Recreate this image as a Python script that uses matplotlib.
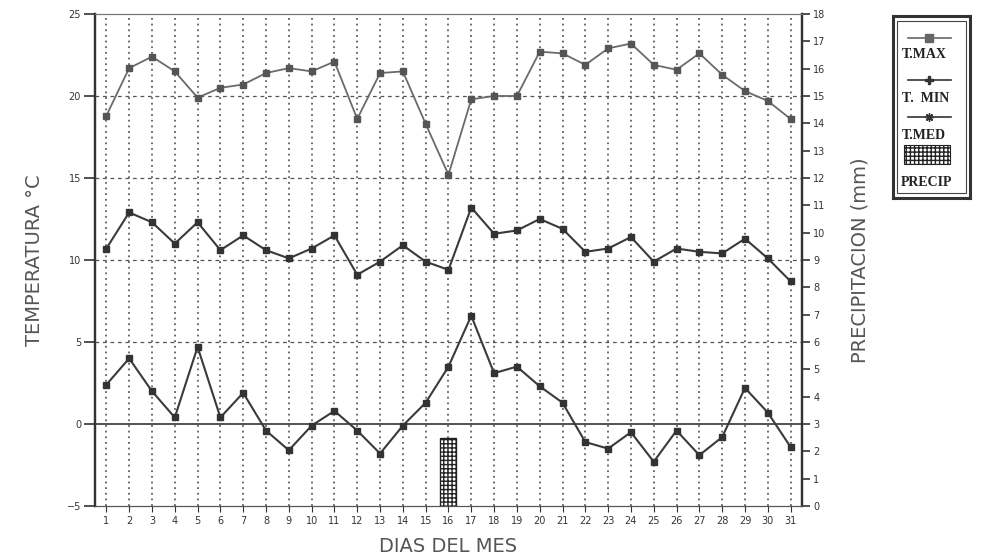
import matplotlib
matplotlib.use("Agg")
import matplotlib.pyplot as plt
from matplotlib.patches import Rectangle

# Daily data for the month
dias = list(range(1, 32))
t_max = [18.8, 21.7, 22.4, 21.5, 19.9, 20.5, 20.7, 21.4, 21.7, 21.5, 22.1,
         18.6, 21.4, 21.5, 18.3, 15.2, 19.8, 20.0, 20.0, 22.7, 22.6, 21.9,
         22.9, 23.2, 21.9, 21.6, 22.6, 21.3, 20.3, 19.7, 18.6]
t_med = [10.7, 12.9, 12.3, 11.0, 12.3, 10.6, 11.5, 10.6, 10.1, 10.7, 11.5,
         9.1, 9.9, 10.9, 9.9, 9.4, 13.2, 11.6, 11.8, 12.5, 11.9, 10.5,
         10.7, 11.4, 9.9, 10.7, 10.5, 10.4, 11.3, 10.1, 8.7]
t_min = [2.4, 4.0, 2.0, 0.4, 4.7, 0.4, 1.9, -0.4, -1.6, -0.1, 0.8,
         -0.4, -1.8, -0.1, 1.3, 3.5, 6.6, 3.1, 3.5, 2.3, 1.3, -1.1,
         -1.5, -0.5, -2.3, -0.4, -1.9, -0.8, 2.2, 0.7, -1.4]
precip_dias = [16]
precip_mm = [2.5]

fig = plt.figure(figsize=(9.85, 5.6), dpi=100)
ax = fig.add_axes([0.0964, 0.0964, 0.7178, 0.8786])
ax2 = ax.twinx()

# precipitation bar on the right axis
ax2.bar(precip_dias, precip_mm, width=0.7, color="white", edgecolor="#222",
        hatch="++++", linewidth=1.0, zorder=2)
ax2.set_ylim(0, 18)
ax2.set_yticks(range(0, 19))
ax2.tick_params(axis="y", labelsize=7, colors="#333", length=6, width=1.2, pad=2)

ax.set_zorder(ax2.get_zorder() + 1)
ax.patch.set_visible(False)

# grid
for d in dias:
    ax.axvline(d, color="#444", linestyle=(0, (1.2, 2.5)), linewidth=1.1, zorder=1)
for v in [5, 10, 15, 20]:
    ax.axhline(v, color="#555", linestyle=(0, (3, 3)), linewidth=0.9, zorder=1)
ax.axhline(0, color="#444", linewidth=1.3, zorder=1)

ax.plot(dias, t_max, color="#6a6a6a", linewidth=1.3, marker="s", markersize=5,
        markerfacecolor="#555", markeredgecolor="#555", zorder=3)
ax.plot(dias, t_med, color="#3a3a3a", linewidth=1.5, marker="s", markersize=5,
        markerfacecolor="#333", markeredgecolor="#333", zorder=3)
ax.plot(dias, t_min, color="#3a3a3a", linewidth=1.5, marker="s", markersize=5,
        markerfacecolor="#333", markeredgecolor="#333", zorder=3)

ax.set_xlim(0.5, 31.5)
ax.set_ylim(-5, 25)
ax.set_xticks(dias)
ax.set_yticks(range(-5, 26, 5))
ax.tick_params(axis="x", labelsize=7, colors="#333", length=4, pad=3)
ax.tick_params(axis="y", labelsize=7, colors="#333", length=8, width=1.2, pad=2)

for a in (ax, ax2):
    a.spines["left"].set_linewidth(1.6)
    a.spines["right"].set_linewidth(1.6)
    a.spines["left"].set_color("#333")
    a.spines["right"].set_color("#333")
    a.spines["top"].set_color("#777")
    a.spines["bottom"].set_color("#555")

ax.set_xlabel("DIAS DEL MES", fontsize=14, color="#555", labelpad=8)
ax.set_ylabel("TEMPERATURA °C", fontsize=14, color="#555", labelpad=16)
ax2.set_ylabel("PRECIPITACION (mm)", fontsize=14, color="#555", labelpad=18)

# legend box drawn by hand: glyph above each label
lg = fig.add_axes([0.9066, 0.6464, 0.078, 0.325])
lg.set_xlim(0, 1)
lg.set_ylim(0, 1)
lg.set_xticks([])
lg.set_yticks([])
for s in lg.spines.values():
    s.set_linewidth(2.2)
    s.set_color("#333")
lg.add_patch(Rectangle((0.05, 0.025), 0.9, 0.95, fill=False, edgecolor="#444",
                       linewidth=0.8, transform=lg.transAxes))
items = [("T.MAX", "s", "#666", 0.879, 0.786),
         ("T.  MIN", "P", "#333", 0.648, 0.549),
         ("T.MED", (8, 2, 0), "#333", 0.445, 0.346)]
tfont = dict(family="Liberation Serif", fontsize=10, fontweight="bold", color="#222")
for lab, mk, col, yl, yt in items:
    lg.plot([0.2, 0.75], [yl, yl], color=col, linewidth=1.2, marker=None)
    lg.plot([0.475], [yl], color=col, marker=mk, markersize=6, linestyle="none")
    lg.text(0.12, yt, lab, ha="left", va="center", **tfont)
lg.add_patch(Rectangle((0.14, 0.185), 0.6, 0.105, facecolor="white",
                       edgecolor="#222", hatch="++++", linewidth=0.8))
lg.text(0.1, 0.088, "PRECIP", ha="left", va="center", **tfont)

fig.savefig("out.png", dpi=100)
